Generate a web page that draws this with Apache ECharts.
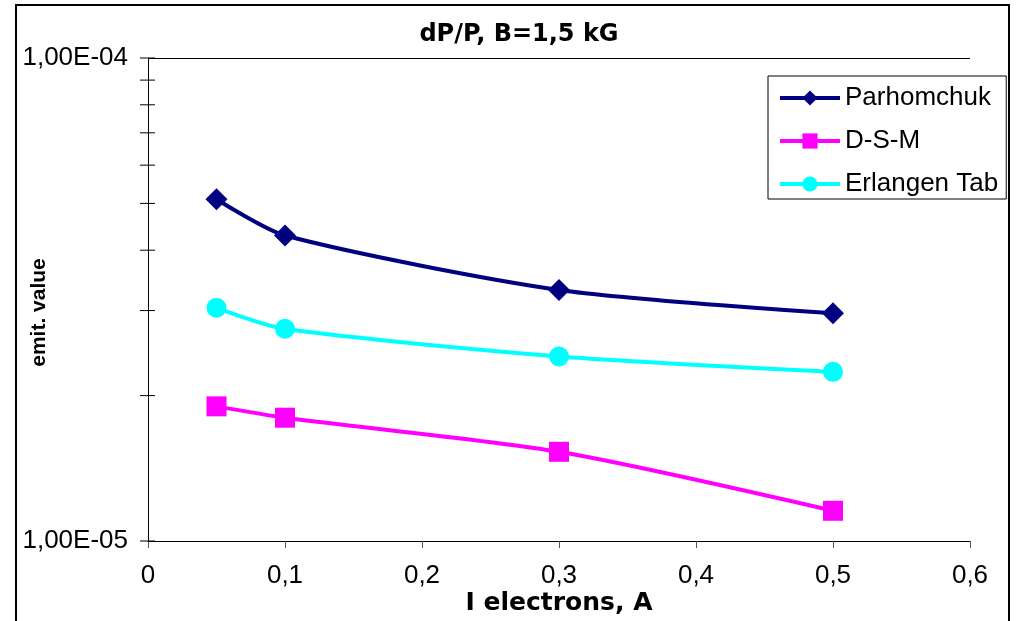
<!DOCTYPE html>
<html>
<head>
<meta charset="utf-8">
<script src="https://cdn.jsdelivr.net/npm/echarts@6/dist/echarts.min.js"></script>
<style>
html,body{margin:0;padding:0;background:#fff;}
#chart{width:1016px;height:621px;}
</style>
</head>
<body>
<div id="chart"></div>
<script>
const xValues = [0.05, 0.1, 0.3, 0.5];
const parhomchuk = [5.1e-5, 4.29e-5, 3.31e-5, 2.96e-5];
const dsm = [1.90e-5, 1.80e-5, 1.53e-5, 1.155e-5];
const erlangen = [3.04e-5, 2.75e-5, 2.41e-5, 2.24e-5];
const yTickValues = [1e-5, 2e-5, 3e-5, 4e-5, 5e-5, 6e-5, 7e-5, 8e-5, 9e-5, 1e-4];
const seriesNames = ['Parhomchuk', 'D-S-M', 'Erlangen Tab'];

const FONT = '"Liberation Sans", Arial, sans-serif';
const BOLDFONT = '"DejaVu Sans", "Liberation Sans", sans-serif';
const chart = echarts.init(document.getElementById('chart'));

function pairs(ys) { return xValues.map((x, i) => [x, ys[i]]); }
function fmtExp(v) {
  const e = Math.round(Math.log10(v));
  const m = (v / Math.pow(10, e)).toFixed(2).replace('.', ',');
  return m + 'E' + (e < 0 ? '-' : '+') + String(Math.abs(e)).padStart(2, '0');
}
function lineSeries(name, data, color, symbol, size) {
  return {
    name: name, type: 'line', data: pairs(data), smooth: 0.25,
    symbol: symbol, symbolSize: size,
    lineStyle: { color: color, width: 4 },
    itemStyle: { color: color },
    z: 5
  };
}

chart.setOption({
  animation: false,
  backgroundColor: '#fff',
  title: {
    text: 'dP/P, B=1,5 kG', left: 514, top: 18, textAlign: 'center',
    textStyle: { fontFamily: BOLDFONT, fontSize: 24, fontWeight: 'bold', color: '#000' }
  },
  grid: { left: 148, right: 46, top: 58, bottom: 80, outerBoundsMode: 'none', containLabel: false },
  legend: {
    orient: 'vertical', left: 768, top: 76,
    data: seriesNames,
    backgroundColor: '#fff', borderColor: '#000', borderWidth: 1,
    padding: [9, 8, 2, 10], itemGap: 17, itemWidth: 60, itemHeight: 19,
    lineStyle: { width: 4 },
    textStyle: { fontFamily: FONT, fontSize: 26, color: '#000' }
  },
  xAxis: {
    type: 'value', min: 0, max: 0.6, interval: 0.1,
    name: 'I electrons, A', nameLocation: 'middle', nameGap: 50,
    nameMoveOverlap: false,
    nameTextStyle: { fontFamily: BOLDFONT, fontSize: 25, fontWeight: 'bold', color: '#000' },
    axisLine: { lineStyle: { color: '#000', width: 1 } },
    axisTick: { show: true, length: 7, lineStyle: { color: '#555' } },
    axisLabel: { fontFamily: FONT, fontSize: 26, color: '#000', margin: 22,
      formatter: v => String(Math.round(v * 10) / 10).replace('.', ',') },
    splitLine: { show: false }
  },
  yAxis: {
    type: 'log', logBase: 10, min: 1e-5, max: 1e-4,
    name: 'emit. value', nameLocation: 'middle', nameGap: 98, nameRotate: 90,
    nameMoveOverlap: false,
    nameTextStyle: { fontFamily: FONT, fontSize: 21, fontWeight: 'bold', color: '#000', padding: [0, 26, 0, 0] },
    axisLine: { show: true, lineStyle: { color: '#000', width: 1 } },
    axisTick: { show: false },
    axisLabel: { fontFamily: FONT, fontSize: 26, color: '#000', margin: 20, formatter: fmtExp },
    splitLine: { show: true, lineStyle: { color: '#000', width: 1 } }
  },
  graphic: [{
    type: 'rect', shape: { x: 16, y: 5, width: 993, height: 640 },
    style: { fill: 'none', stroke: '#000', lineWidth: 2 }, silent: true, z: 100
  }],
  series: [
    lineSeries(seriesNames[0], parhomchuk, '#000080', 'diamond', 22),
    lineSeries(seriesNames[1], dsm, '#FF00FF', 'rect', 20),
    lineSeries(seriesNames[2], erlangen, '#00FFFF', 'circle', 20),
    {
      name: 'yticks', type: 'custom', silent: true, clip: false, z: 3,
      data: yTickValues.map(v => [0, v]),
      renderItem: function (params, api) {
        const p = api.coord([api.value(0), api.value(1)]);
        return { type: 'line', shape: { x1: p[0] - 8, y1: p[1], x2: p[0] + 7, y2: p[1] },
          style: { stroke: '#000', lineWidth: 1 } };
      }
    }
  ]
});
</script>
</body>
</html>
